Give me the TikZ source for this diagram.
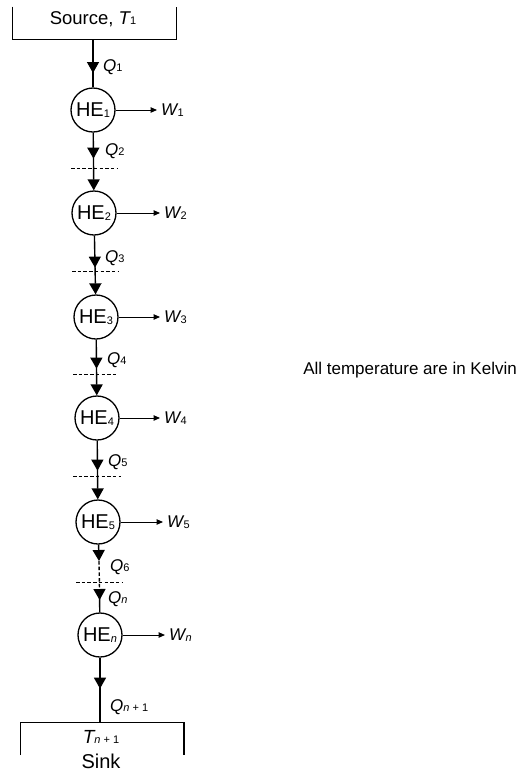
\documentclass[tikz,border=0pt]{standalone}
\usepackage{fontspec}
\setmainfont{Liberation Sans}
\usetikzlibrary{arrows.meta,decorations.markings}
\newcommand{\sbs}[1]{\raisebox{-0.6pt}{\fontsize{11}{11}\selectfont #1}}
\tikzset{
  qtip/.tip={Triangle[width=12pt,length=11pt]},
  heat/.style={line width=1.4pt},
  flow/.style={postaction={decorate,decoration={markings,mark=at position #1 with {\arrow{qtip}}}}},
  engine/.style={circle,draw,line width=1.3pt,minimum size=44pt,inner sep=0pt,font=\fontsize{20}{20}\selectfont},
  qlbl/.style={anchor=west,inner sep=0pt,font=\fontsize{17}{17}\selectfont},
  wlbl/.style={anchor=west,inner sep=4pt,font=\fontsize{17}{17}\selectfont},
  cut/.style={dash pattern=on 3.5pt off 2.2pt,line width=1pt},
  work/.style={line width=1pt,-{Triangle[width=5.5pt,length=6.5pt]}}
}
\begin{document}
\begin{tikzpicture}[x=1pt,y=-1pt]
  \useasboundingbox (0,0) rectangle (520,772);
  \node[font=\fontsize{18.5}{18.5}\selectfont] (src) at (93,19) {Source, \textit{T}\kern-1pt\sbs{1}};
  \draw[heat] (12.7,6.5) |- (176.7,39.5) -- (176.7,6.5);
  \coordinate (srcout) at (93,39.5);
  \node[engine] (he1) at (93,110) {HE\sbs{1}};
  \node[engine] (he2) at (94,213) {HE\sbs{2}};
  \node[engine] (he3) at (96,317) {HE\sbs{3}};
  \node[engine] (he4) at (97,418) {HE\sbs{4}};
  \node[engine] (he5) at (98,522) {HE\sbs{5}};
  \node[engine] (hen) at (100,635) {HE\sbs{\textit{n}}};
  \node[wlbl] (w1) at (157,110) {\textit{W}\kern-1pt\sbs{1}};
  \node[wlbl] (w2) at (160,213) {\textit{W}\kern-1pt\sbs{2}};
  \node[wlbl] (w3) at (160,317) {\textit{W}\kern-1pt\sbs{3}};
  \node[wlbl] (w4) at (160,418) {\textit{W}\kern-1pt\sbs{4}};
  \node[wlbl] (w5) at (163,522) {\textit{W}\kern-1pt\sbs{5}};
  \node[wlbl] (wn) at (165,635) {\textit{W}\kern-1pt\sbs{\textit{n}}};
  \foreach \e/\w in {he1/w1,he2/w2,he3/w3,he4/w4,he5/w5,hen/wn}
    \draw[work] (\e) -- (\w);
  \node[qlbl] (q1) at (103,67) {\textit{Q}\sbs{1}};
  \node[qlbl] (q2) at (105,151) {\textit{Q}\sbs{2}};
  \node[qlbl] (q3) at (105,258) {\textit{Q}\sbs{3}};
  \node[qlbl] (q4) at (107,360) {\textit{Q}\sbs{4}};
  \node[qlbl] (q5) at (108,462) {\textit{Q}\sbs{5}};
  \node[qlbl] (q6) at (110,567) {\textit{Q}\sbs{6}};
  \node[qlbl] (qn) at (108,599) {\textit{Q}\sbs{\textit{n}}};
  \node[qlbl] (qlast) at (110,707) {\textit{Q}\sbs{\textit{n} + 1}};
  \draw[heat,flow=33.5pt] (srcout) -- (he1);
  \draw[heat,flow=26pt,-{qtip}] (he1) -- (he2);
  \draw[heat,flow=32pt,-{qtip}] (he2) -- (he3);
  \draw[heat,flow=29pt,-{qtip}] (he3) -- (he4);
  \draw[heat,flow=30pt,-{qtip}] (he4) -- (he5);
  \coordinate (brk1) at (99,561);
  \coordinate (brk2) at (99.5,589);
  \draw[heat,-{qtip}] (he5) -- (brk1);
  \draw[heat,dash pattern=on 3.5pt off 2.2pt] (brk1) -- (brk2);
  \draw[heat,flow=11pt] (brk2) -- (hen);
  \foreach \y/\a/\b in {168/71/118, 271/72/119, 374/73/118, 476/73/121, 582/76/123}
    \draw[cut] (\a,\y) -- (\b,\y);
  \coordinate (sinkin) at (100,722.7);
  \draw[heat,flow=31pt] (hen) -- (sinkin);
  \draw[heat] (20.7,755) |- (184,722.7) -- (184,755);
  \node[font=\fontsize{19}{19}\selectfont] (tsink) at (101,737) {\textit{T}\kern-1pt\sbs{\textit{n} + 1}};
  \node[font=\fontsize{20}{20}\selectfont] (sinklbl) at (101,761) {Sink};
  \node[anchor=east,inner sep=0pt,font=\fontsize{17}{17}\selectfont] (note) at (517,370) {All temperature are in Kelvin};
\end{tikzpicture}
\end{document}
